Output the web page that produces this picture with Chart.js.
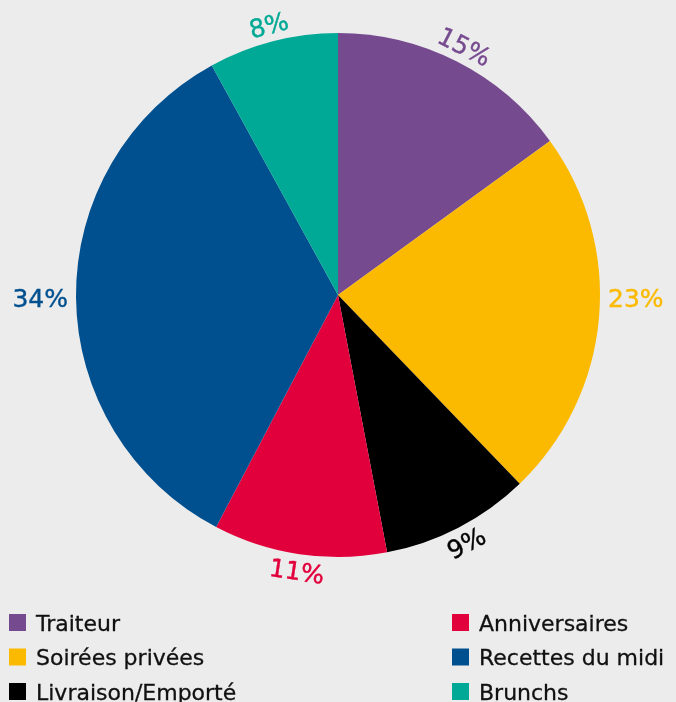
<!DOCTYPE html>
<html>
<head>
<meta charset="utf-8">
<script src="https://cdn.jsdelivr.net/npm/chart.js@4.4.1/dist/chart.umd.min.js"></script>
<style>
  html, body { margin: 0; padding: 0; background: #ececec; }
  #c { display: block; }
</style>
</head>
<body>
<canvas id="c" width="676" height="702"></canvas>
<script>
const categories = ["Traiteur", "Soirées privées", "Livraison/Emporté", "Anniversaires", "Recettes du midi", "Brunchs"];
const shares = [15, 22.8, 9.2, 10.7, 34.3, 8.0];
const colors = ["#764a8f", "#fbba00", "#000000", "#e2003c", "#00508f", "#00a995"];
const legendColumns = [[0, 1, 2], [3, 4, 5]];

const FONT = '"DejaVu Sans", sans-serif';

const labelPlugin = {
  id: 'outerLabels',
  afterDatasetsDraw(chart) {
    const ctx = chart.ctx;
    const meta = chart.getDatasetMeta(0);
    const total = shares.reduce((a, b) => a + b, 0);
    ctx.save();
    ctx.font = '25px ' + FONT;
    const capH = 18;
    const gap = 8;
    meta.data.forEach((arc, i) => {
      const p = arc.getProps(['x', 'y', 'startAngle', 'endAngle', 'outerRadius'], true);
      const mid = (p.startAngle + p.endAngle) / 2;
      const fromTopDeg = (((mid + Math.PI / 2) * 180 / Math.PI) % 360 + 360) % 360;
      const rotDeg = ((fromTopDeg + 45) % 90 + 90) % 90 - 45;
      const rot = rotDeg * Math.PI / 180;
      const side = (fromTopDeg > 45 && fromTopDeg < 135) || (fromTopDeg > 225 && fromTopDeg < 315);
      const txt = Math.round(shares[i] / total * 100) + '%';
      const w = ctx.measureText(txt).width;
      let cx, cy, drawRot;
      if (side) {
        const dir = Math.cos(mid) >= 0 ? 1 : -1;
        cx = p.x + dir * (p.outerRadius + gap + w / 2);
        cy = p.y + 3;
        drawRot = 0;
      } else {
        const ux = Math.cos(mid), uy = Math.sin(mid);
        const ly = [-Math.sin(rot), Math.cos(rot)];
        const ext = Math.abs(ux * ly[0] + uy * ly[1]) * capH / 2;
        const r = p.outerRadius + gap + ext;
        cx = p.x + ux * r; cy = p.y + uy * r;
        drawRot = rot;
      }
      ctx.save();
      ctx.translate(cx, cy);
      ctx.rotate(drawRot);
      ctx.fillStyle = colors[i];
      ctx.strokeStyle = colors[i];
      ctx.lineWidth = 0.4;
      ctx.textAlign = 'center';
      ctx.textBaseline = 'alphabetic';
      ctx.fillText(txt, 0, capH / 2);
      ctx.strokeText(txt, 0, capH / 2);
      ctx.restore();
    });
    ctx.restore();
  }
};

const legendPlugin = {
  id: 'columnLegend',
  afterDraw(chart) {
    const ctx = chart.ctx;
    ctx.save();
    ctx.font = '22px ' + FONT;
    ctx.textAlign = 'left';
    ctx.textBaseline = 'alphabetic';
    const colX = [9, 452];
    const rowY = [622.5, 657, 691.5];
    const box = 17;
    legendColumns.forEach((col, ci) => {
      col.forEach((idx, ri) => {
        const x = colX[ci], yc = rowY[ri];
        ctx.fillStyle = chart.data.datasets[0].backgroundColor[idx];
        ctx.fillRect(x, yc - box / 2, box, box);
        ctx.fillStyle = '#111111';
        ctx.strokeStyle = '#111111';
        ctx.lineWidth = 0.3;
        ctx.fillText(chart.data.labels[idx], x + 27, yc + 8);
        ctx.strokeText(chart.data.labels[idx], x + 27, yc + 8);
      });
    });
    ctx.restore();
  }
};

new Chart(document.getElementById('c'), {
  type: 'pie',
  data: {
    labels: categories,
    datasets: [{
      data: shares,
      backgroundColor: colors,
      borderWidth: 0
    }]
  },
  options: {
    responsive: false,
    animation: false,
    layout: { padding: { top: 33, bottom: 145, left: 0, right: 0 } },
    plugins: {
      legend: { display: false },
      tooltip: { enabled: false }
    }
  },
  plugins: [labelPlugin, legendPlugin]
});
</script>
</body>
</html>
